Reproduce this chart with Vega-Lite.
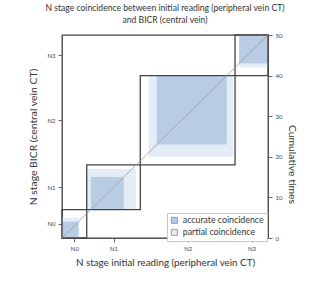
{
  "$schema": "https://vega.github.io/schema/vega-lite/v6.json",
  "autosize": {"type": "none"},
  "padding": {"left": 62, "top": 35, "right": 62, "bottom": 43},
  "width": 206,
  "height": 203,
  "background": "white",
  "title": {
    "text": ["N stage coincidence  between initial reading (peripheral vein CT)", "and BICR (central  vein)"],
    "fontSize": 8.6,
    "font": "Lato",
    "fontWeight": "normal",
    "color": "#333333",
    "lineHeight": 12,
    "anchor": "middle",
    "offset": 7
  },
  "datasets": {
    "rects": [
      {"cat": "N0", "type": "partial coincidence", "x": 0, "x2": 4.2, "y": 0, "y2": 5},
      {"cat": "N1", "type": "partial coincidence", "x": 6, "x2": 18, "y": 7, "y2": 17},
      {"cat": "N2", "type": "partial coincidence", "x": 21, "x2": 41.5, "y": 20, "y2": 40},
      {"cat": "N3", "type": "partial coincidence", "x": 43, "x2": 50, "y": 42, "y2": 50},
      {"cat": "N0", "type": "accurate coincidence", "x": 0, "x2": 4, "y": 0, "y2": 4},
      {"cat": "N1", "type": "accurate coincidence", "x": 7, "x2": 15, "y": 7, "y2": 15},
      {"cat": "N2", "type": "accurate coincidence", "x": 23, "x2": 40, "y": 23, "y2": 40},
      {"cat": "N3", "type": "accurate coincidence", "x": 43, "x2": 50, "y": 43, "y2": 50}
    ],
    "boxes": [
      {"cat": "N0", "x": 0, "x2": 6, "y": 0, "y2": 7},
      {"cat": "N1", "x": 6, "x2": 19, "y": 7, "y2": 18},
      {"cat": "N2", "x": 19, "x2": 42, "y": 18, "y2": 40},
      {"cat": "N3", "x": 42, "x2": 50, "y": 40, "y2": 50}
    ],
    "diag": [
      {"x": 0, "y": 0, "x2": 50, "y2": 50}
    ]
  },
  "layer": [
    {
      "data": {"name": "rects"},
      "mark": {"type": "rect"},
      "encoding": {
        "x": {
          "field": "x", "type": "quantitative",
          "scale": {"domain": [0, 50], "nice": false, "zero": false},
          "axis": {
            "values": [3, 12.5, 30.5, 46],
            "labelExpr": "datum.value == 3 ? 'N0' : datum.value == 12.5 ? 'N1' : datum.value == 30.5 ? 'N2' : 'N3'",
            "title": "N stage initial reading (peripheral vein CT)",
            "titleFontSize": 9.8,
            "titlePadding": 6,
            "grid": false
          }
        },
        "x2": {"field": "x2"},
        "y": {
          "field": "y", "type": "quantitative",
          "scale": {"domain": [0, 50], "nice": false, "zero": false},
          "axis": {
            "values": [3.5, 12.5, 29, 45],
            "labelExpr": "datum.value == 3.5 ? 'N0' : datum.value == 12.5 ? 'N1' : datum.value == 29 ? 'N2' : 'N3'",
            "title": "N stage BICR (central vein CT)",
            "grid": false,
            "titleFontSize": 10.4,
            "titlePadding": 8
          }
        },
        "y2": {"field": "y2"},
        "color": {
          "field": "type", "type": "nominal",
          "scale": {"domain": ["accurate coincidence", "partial coincidence"], "range": ["#b8cce4", "#e4ecf7"]},
          "legend": {
            "title": null,
            "orient": "none",
            "legendX": 105,
            "legendY": 178,
            "strokeColor": "#c8c8c8",
            "fillColor": "white",
            "padding": 3,
            "symbolType": "square",
            "symbolSize": 36,
            "symbolStrokeColor": "#8a8a8a",
            "symbolStrokeWidth": 0.8,
            "labelFontSize": 8.8,
            "labelFont": "Lato",
            "labelColor": "#333333",
            "rowPadding": 1
          }
        }
      }
    },
    {
      "data": {"name": "boxes"},
      "mark": {"type": "rect", "fill": null, "fillOpacity": 0, "stroke": "#444444", "strokeWidth": 1.3},
      "encoding": {
        "x": {"field": "x", "type": "quantitative"},
        "x2": {"field": "x2"},
        "y": {"field": "y", "type": "quantitative", "axis": null},
        "y2": {"field": "y2"}
      }
    },
    {
      "data": {"name": "diag"},
      "mark": {"type": "rule", "stroke": "#9a9a9a", "strokeWidth": 0.8},
      "encoding": {
        "x": {"field": "x", "type": "quantitative"},
        "x2": {"field": "x2"},
        "y": {
          "field": "y", "type": "quantitative",
          "axis": {
            "orient": "right",
            "values": [0, 10, 20, 30, 40, 50],
            "title": "Cumulative times",
            "titleFontSize": 10.4,
            "titlePadding": 5,
            "titleY": 129,
            "grid": false
          }
        },
        "y2": {"field": "y2"}
      }
    }
  ],
  "resolve": {"axis": {"y": "independent"}},
  "config": {
    "view": {"stroke": "#444444", "strokeWidth": 1.3},
    "font": "Lato",
    "axis": {
      "labelFontSize": 6,
      "labelColor": "#444444",
      "labelFont": "Lato",
      "titleFont": "Lato",
      "titleFontWeight": "normal",
      "titleColor": "#333333",
      "domainColor": "#555555",
      "tickColor": "#666666",
      "tickSize": 4,
      "labelPadding": 3
    }
  }
}
